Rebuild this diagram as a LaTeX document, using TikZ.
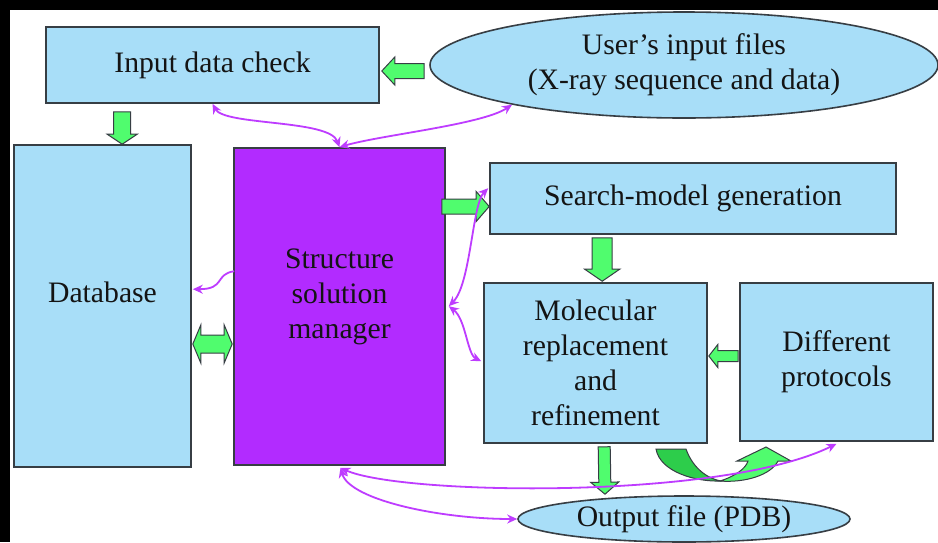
\documentclass[tikz,border=0pt]{standalone}
\usepackage{fontspec}
\setmainfont{Liberation Serif}
\usetikzlibrary{shapes.geometric,calc,arrows.meta}
\definecolor{boxblue}{RGB}{168,222,248}
\definecolor{mgrpurple}{RGB}{178,43,255}
\definecolor{blkgreen}{RGB}{80,252,110}
\definecolor{blkdark}{RGB}{45,205,75}
\definecolor{connvio}{RGB}{190,60,255}
\definecolor{edgegray}{RGB}{55,62,68}
\definecolor{txtcol}{RGB}{20,20,20}
\newcommand\blockarrow[5]{%
 \coordinate (ba-s) at (#1); \coordinate (ba-e) at (#2);
 \coordinate (ba-h) at ($(ba-e)!#5!(ba-s)$);
 \filldraw[blk] ($(ba-s)!#3!90:(ba-e)$) -- ($(ba-h)!#3!90:(ba-e)$) -- ($(ba-h)!#4!90:(ba-e)$) -- (ba-e) -- ($(ba-h)!#4!-90:(ba-e)$) -- ($(ba-h)!#3!-90:(ba-e)$) -- ($(ba-s)!#3!-90:(ba-e)$) -- cycle;}
\newcommand\dblockarrow[5]{%
 \coordinate (ba-s) at (#1); \coordinate (ba-e) at (#2);
 \coordinate (ba-h) at ($(ba-e)!#5!(ba-s)$);
 \coordinate (ba-g) at ($(ba-s)!#5!(ba-e)$);
 \filldraw[blk] (ba-s) -- ($(ba-g)!#4!-90:(ba-s)$) -- ($(ba-g)!#3!-90:(ba-s)$) -- ($(ba-h)!#3!90:(ba-e)$) -- ($(ba-h)!#4!90:(ba-e)$) -- (ba-e) -- ($(ba-h)!#4!-90:(ba-e)$) -- ($(ba-h)!#3!-90:(ba-e)$) -- ($(ba-g)!#3!90:(ba-s)$) -- ($(ba-g)!#4!90:(ba-s)$) -- cycle;}
\tikzset{
 txtfont/.style={font=\fontsize{14.85pt}{17.5pt}\selectfont, text=txtcol, align=center},
 box/.style={draw=edgegray, line width=0.8pt, fill=boxblue, inner sep=0pt, txtfont},
 ell/.style={ellipse, draw=edgegray, line width=0.8pt, fill=boxblue, inner sep=0pt, txtfont},
 lbl/.style={inner sep=0pt, txtfont},
 blk/.style={fill=blkgreen, draw=edgegray, line width=0.5pt, line join=miter},
 conn/.style={draw=connvio, line width=0.9pt, {Stealth[length=5pt,width=4.5pt]}-{Stealth[length=5pt,width=4.5pt]}},
 conn1/.style={draw=connvio, line width=0.9pt, -{Stealth[length=5pt,width=4.5pt]}}
}
\begin{document}
\begin{tikzpicture}[x=0.5pt,y=-0.5pt]
\useasboundingbox (0,0) rectangle (938,542);
\fill[black] (0,0) rectangle (938,542);
\fill[white] (10,10) rectangle (938,542);
% nodes
\node[box, minimum width=166.5pt, minimum height=38pt] (inp) at (212.5,65) {Input data check};
\node[ell, minimum width=254pt, minimum height=53pt] (usr) at (684,65) {User’s input files\\(X-ray sequence and data)};
\node[box, minimum width=88.5pt, minimum height=161pt] (db) at (102.5,306) {};
\node[lbl] (dbt) at ($(db.center)+(0,-14)$) {Database};
\node[box, fill=mgrpurple, minimum width=105.5pt, minimum height=158.5pt] (ssm) at (339.5,306.5) {};
\node[lbl] (ssmt) at ($(ssm.center)+(0,-9.5)$) {Structure\\solution\\manager};
\node[box, minimum width=203pt, minimum height=35.5pt] (smg) at (693,198.5) {Search-model generation};
\node[box, minimum width=111.5pt, minimum height=80pt] (mr) at (595.5,363) {Molecular\\replacement\\and\\refinement};
\node[box, minimum width=96.5pt, minimum height=79pt] (dp) at (836.5,362) {Different\\protocols};
\node[ell, minimum width=166pt, minimum height=23pt] (out) at (684,519) {Output file (PDB)};
% block arrows
\blockarrow{$(usr.west)+(-5,6)$}{$(inp.east)+(2,6)$}{3.75pt}{7pt}{6.5pt}
\blockarrow{$(inp.south west)+(77,8)$}{$(db.north west)+(109,0)$}{4.25pt}{7.5pt}{5pt}
\blockarrow{$(ssm.east)+(-4,-100)$}{$(smg.west)+(0,8)$}{3.75pt}{7.5pt}{6.5pt}
\blockarrow{$(smg.south west)+(113,3)$}{$(mr.north west)+(119,-1)$}{5pt}{8.75pt}{6pt}
\blockarrow{$(dp.west)+(-1,-6)$}{$(mr.east)+(1,-7)$}{2.75pt}{5.75pt}{4.5pt}
\blockarrow{$(mr.south west)+(121,3)$}{$(out.north)+(-79,-1)$}{3pt}{7pt}{6pt}
\dblockarrow{$(db.east)+(1,38)$}{$(ssm.west)+(-1,37.5)$}{4.5pt}{9.5pt}{4pt}
% curved green arrow
\filldraw[fill=blkdark, draw=edgegray, line width=0.5pt] (656,449) -- (686,449) .. controls (692,466) and (705,478) .. (721,481) .. controls (696,482) and (660,472) .. (656,449) -- cycle;
\filldraw[blk] (720,481) .. controls (736,476) and (746,468) .. (748,461) -- (737,461) -- (766,447) -- (791,461) -- (778,461) .. controls (771,475) and (745,483) .. (720,481) -- cycle;
% connectors
\draw[conn] (inp.south) .. controls +(12,22) and +(-10,-28) .. (ssm.north);
\draw[conn] (ssm.north) .. controls +(40,-12) and +(-30,20) .. (usr.193);
\draw[conn1] ($(ssm.north west)+(1,124)$) .. controls +(-20,3) and +(33,0) .. ($(db.north east)+(1,145)$);
\draw[conn] ($(ssm.north east)+(3,159)$) .. controls +(22,-22) and +(-16,16) .. ($(smg.north west)+(-1,26)$);
\draw[conn] ($(ssm.north east)+(3,159)$) .. controls +(17,13) and +(-14,-7) .. ($(mr.north west)+(-2,79)$);
\draw[conn] ($(ssm.south)+(1,2)$) .. controls +(9,32) and +(-78,0) .. (out.west);
\draw[conn] ($(ssm.south)+(1,2)$) .. controls +(59,27) and +(-116,57) .. ($(dp.south)+(0,2)$);
\end{tikzpicture}
\end{document}
